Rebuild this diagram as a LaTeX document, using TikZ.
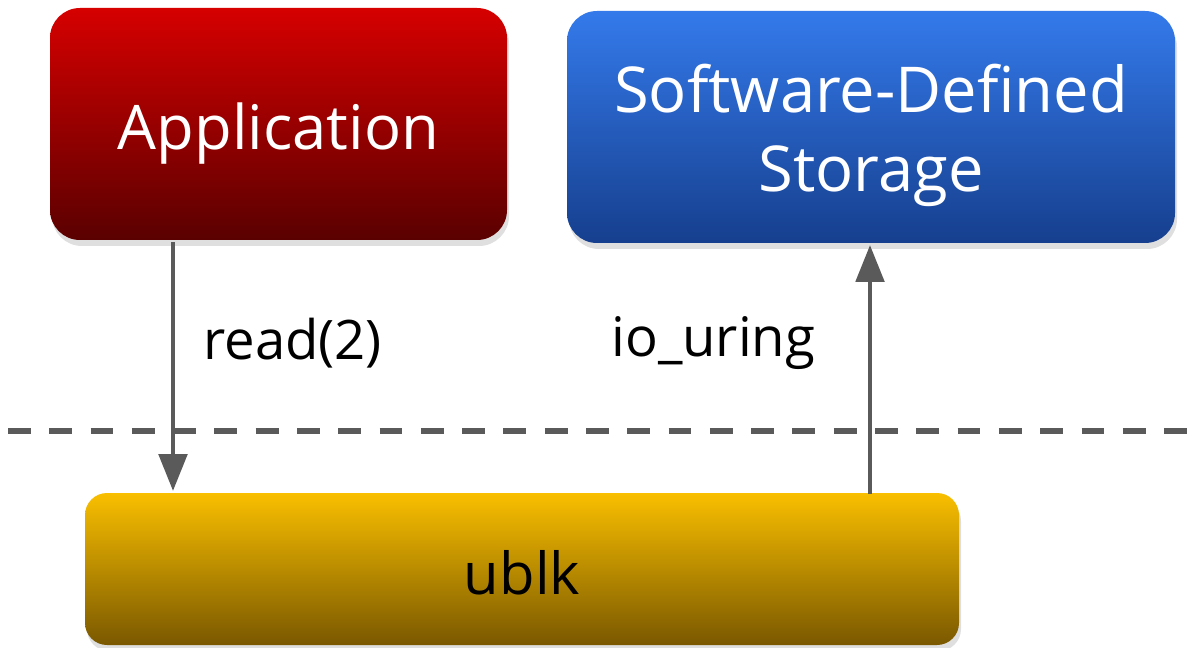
\documentclass[tikz,border=0pt]{standalone}
\usepackage{fontspec}
\setmainfont{Open Sans}
\usetikzlibrary{shadows,arrows.meta}
\definecolor{appTop}{HTML}{D60000}
\definecolor{appBot}{HTML}{5A0000}
\definecolor{sdsTop}{HTML}{347AEB}
\definecolor{sdsBot}{HTML}{163F8E}
\definecolor{ublkTop}{HTML}{F9BF00}
\definecolor{ublkBot}{HTML}{7A5800}
\definecolor{lineGray}{HTML}{5A5A5A}
\tikzset{
  box/.style={rectangle, rounded corners=30*0.02cm, inner sep=0pt, draw=none,
    drop shadow={shadow xshift=0.4mm, shadow yshift=-1.2mm, opacity=0.25},
    font=\fontsize{36}{45}\selectfont, align=center},
  boxtext/.style={inner sep=0pt, text depth=0pt, align=center},
  flow/.style={draw=lineGray, line width=2.8pt,
    -{Triangle[length=21pt,width=16pt]}},
  lbl/.style={font=\fontsize{31}{38}\selectfont, text=black, inner sep=0pt},
}
\begin{document}
\begin{tikzpicture}[x=0.02cm,y=-0.02cm]
  \useasboundingbox (0,0) rectangle (1189,648);
  % upper boxes
  \node[box, top color=appTop, bottom color=appBot,
        minimum width=457*0.02cm, minimum height=232*0.02cm]
        (app) at (278.5,124) {};
  \node[boxtext, text=white, font=\fontsize{35}{42}\selectfont]
        (apptxt) at (278.5,126) {Application};
  \node[box, top color=sdsTop, bottom color=sdsBot,
        minimum width=608*0.02cm, minimum height=232*0.02cm]
        (sds) at (871,127) {};
  \node[boxtext, text=white, font=\fontsize{36}{45}\selectfont]
        (sdstxt) at (871,128) {Software-Defined\\Storage};
  % lower box
  \node[box, rounded corners=22*0.02cm, top color=ublkTop, bottom color=ublkBot,
        minimum width=874*0.02cm, minimum height=152*0.02cm]
        (ublk) at (522,569) {};
  \node[boxtext, text=black, font=\fontsize{33}{40}\selectfont]
        (ublktxt) at (522,572) {ublk};
  % boundary line
  \coordinate (dl) at (8,431);
  \coordinate (dr) at (1189,431);
  \draw[lineGray, line width=3.8pt, dash pattern=on 13pt off 10.5pt] (dl) -- (dr);
  % connectors
  \coordinate (aout) at (173,242);
  \coordinate (ain) at (173,491);
  \coordinate (sout) at (870,494);
  \coordinate (sin) at (870,245);
  \draw[flow] (aout) -- (ain);
  \draw[flow] (sout) -- (sin);
  % labels
  \node[lbl, anchor=west] (rd) at (203,343) {read(2)};
  \node[lbl, anchor=west] (io) at (611,343) {io\_uring};
\end{tikzpicture}
\end{document}
